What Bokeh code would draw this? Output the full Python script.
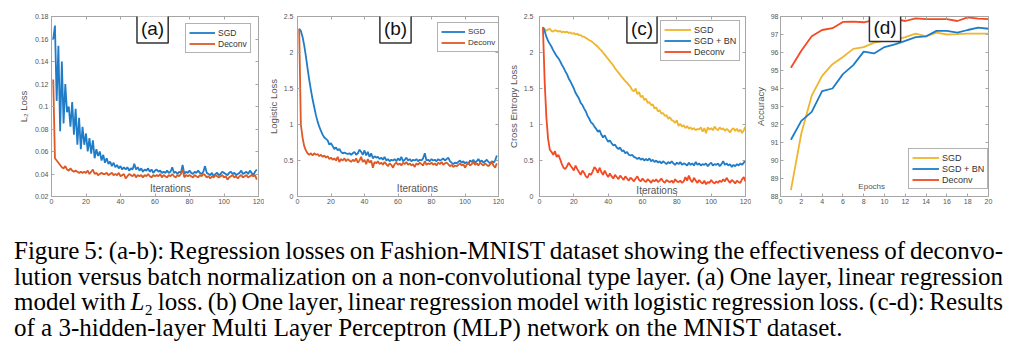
from bokeh.plotting import figure
from bokeh.layouts import row, column
from bokeh.models import Range1d, FixedTicker, Label, Div, LinearAxis
from bokeh.embed import file_html
from bokeh.resources import INLINE

# ---------------- data ----------------
iters_ab = list(range(1, 120))
iters_c = list(range(2, 121))
epochs_d = list(range(1, 21))

a_sgd = [0.160, 0.172, 0.105, 0.154, 0.078, 0.140, 0.085, 0.120, 0.095, 0.100,
         0.082, 0.104, 0.075, 0.098, 0.066, 0.090, 0.062, 0.082, 0.066, 0.076,
         0.060, 0.072, 0.058, 0.070, 0.054, 0.062, 0.056, 0.060, 0.052, 0.057,
         0.050, 0.054, 0.049, 0.051, 0.047, 0.050, 0.046, 0.048, 0.045, 0.047,
         0.044, 0.046, 0.044, 0.046, 0.043, 0.045, 0.044, 0.049, 0.044, 0.046,
         0.043, 0.045, 0.042, 0.044, 0.043, 0.045, 0.042, 0.044, 0.041, 0.043,
         0.044, 0.042, 0.043, 0.041, 0.042, 0.041, 0.043, 0.041, 0.042, 0.046,
         0.041, 0.042, 0.040, 0.042, 0.041, 0.048, 0.040, 0.042, 0.041, 0.043,
         0.041, 0.040, 0.042, 0.041, 0.043, 0.041, 0.040, 0.042, 0.047, 0.041,
         0.040, 0.039, 0.041, 0.038, 0.040, 0.041, 0.039, 0.040, 0.042, 0.041,
         0.040, 0.039, 0.041, 0.042, 0.040, 0.041, 0.039, 0.040, 0.041, 0.043,
         0.040, 0.041, 0.042, 0.040, 0.043, 0.041, 0.039, 0.042, 0.044]
a_deconv = [0.124, 0.054, 0.052, 0.050, 0.048, 0.046, 0.045, 0.047, 0.044, 0.043,
            0.045, 0.043, 0.042, 0.043, 0.042, 0.041, 0.042, 0.041, 0.042, 0.041,
            0.043, 0.040, 0.042, 0.044, 0.040, 0.041, 0.039, 0.040, 0.041, 0.040,
            0.040, 0.041, 0.039, 0.040, 0.041, 0.039, 0.040, 0.039, 0.041, 0.038,
            0.039, 0.040, 0.036, 0.038, 0.040, 0.039, 0.038, 0.040, 0.037, 0.039,
            0.038, 0.039, 0.037, 0.039, 0.038, 0.040, 0.038, 0.037, 0.039, 0.038,
            0.039, 0.038, 0.040, 0.037, 0.039, 0.038, 0.037, 0.039, 0.038, 0.040,
            0.038, 0.037, 0.039, 0.038, 0.040, 0.044, 0.037, 0.039, 0.038, 0.039,
            0.038, 0.037, 0.039, 0.038, 0.037, 0.039, 0.038, 0.040, 0.039, 0.037,
            0.038, 0.036, 0.038, 0.037, 0.039, 0.038, 0.037, 0.038, 0.039, 0.037,
            0.038, 0.035, 0.037, 0.038, 0.039, 0.037, 0.038, 0.036, 0.038, 0.039,
            0.037, 0.038, 0.039, 0.037, 0.038, 0.039, 0.038, 0.039, 0.035]

b_sgd = [2.33, 2.30, 2.22, 2.10, 1.95, 1.78, 1.62, 1.48, 1.35, 1.24,
         1.13, 1.04, 0.97, 0.91, 0.86, 0.82, 0.80, 0.78, 0.72, 0.74,
         0.70, 0.66, 0.68, 0.64, 0.66, 0.62, 0.60, 0.61, 0.60, 0.59,
         0.60, 0.58, 0.60, 0.62, 0.58, 0.60, 0.65, 0.62, 0.58, 0.64,
         0.57, 0.62, 0.55, 0.60, 0.53, 0.56, 0.54, 0.55, 0.52, 0.54,
         0.51, 0.55, 0.50, 0.52, 0.49, 0.51, 0.50, 0.52, 0.49, 0.53,
         0.50, 0.55, 0.49, 0.51, 0.54, 0.50, 0.52, 0.49, 0.51, 0.50,
         0.52, 0.49, 0.51, 0.50, 0.53, 0.60, 0.50, 0.51, 0.49, 0.52,
         0.50, 0.51, 0.49, 0.52, 0.50, 0.51, 0.53, 0.50, 0.52, 0.54,
         0.49, 0.47, 0.45, 0.47, 0.46, 0.48, 0.50, 0.47, 0.49, 0.46,
         0.48, 0.45, 0.50, 0.48, 0.51, 0.47, 0.49, 0.52, 0.48, 0.50,
         0.47, 0.49, 0.51, 0.48, 0.46, 0.49, 0.47, 0.50, 0.57]
b_deconv = [2.33, 1.00, 0.82, 0.70, 0.64, 0.60, 0.58, 0.60, 0.57, 0.60,
            0.58, 0.59, 0.56, 0.58, 0.55, 0.57, 0.54, 0.56, 0.52, 0.54,
            0.51, 0.53, 0.50, 0.55, 0.48, 0.52, 0.50, 0.53, 0.49, 0.52,
            0.50, 0.48, 0.51, 0.49, 0.53, 0.47, 0.50, 0.55, 0.48, 0.51,
            0.45, 0.52, 0.47, 0.50, 0.40, 0.48, 0.46, 0.49, 0.45, 0.47,
            0.44, 0.48, 0.45, 0.42, 0.46, 0.44, 0.40, 0.45, 0.47, 0.44,
            0.46, 0.43, 0.47, 0.45, 0.48, 0.44, 0.46, 0.43, 0.45, 0.41,
            0.46, 0.44, 0.47, 0.45, 0.43, 0.49, 0.44, 0.46, 0.45, 0.47,
            0.44, 0.46, 0.43, 0.47, 0.45, 0.48, 0.44, 0.46, 0.47, 0.45,
            0.42, 0.44, 0.41, 0.43, 0.42, 0.44, 0.46, 0.43, 0.45, 0.40,
            0.44, 0.47, 0.43, 0.45, 0.48, 0.44, 0.46, 0.43, 0.47, 0.45,
            0.43, 0.46, 0.44, 0.42, 0.45, 0.48, 0.43, 0.40, 0.46]

c_sgd = [2.35, 2.33, 2.30, 2.32, 2.33, 2.30, 2.29, 2.31, 2.30, 2.29,
         2.30, 2.28, 2.29, 2.28, 2.29, 2.27, 2.28, 2.26, 2.27, 2.25,
         2.26, 2.24, 2.24, 2.22, 2.22, 2.20, 2.19, 2.17, 2.16, 2.14,
         2.12, 2.10, 2.08, 2.05, 2.03, 2.00, 1.97, 1.94, 1.91, 1.88,
         1.85, 1.82, 1.78, 1.75, 1.72, 1.69, 1.66, 1.63, 1.60, 1.58,
         1.55, 1.52, 1.48, 1.46, 1.50, 1.42, 1.45, 1.38, 1.40, 1.34,
         1.36, 1.30, 1.31, 1.27, 1.28, 1.22, 1.24, 1.18, 1.20, 1.15,
         1.16, 1.12, 1.13, 1.08, 1.10, 1.06, 1.05, 1.02, 1.06, 0.98,
         1.01, 0.97, 0.99, 0.95, 0.98, 0.94, 0.96, 0.93, 0.95, 0.92,
         0.94, 0.93, 0.96, 0.90, 0.95, 0.88, 0.96, 0.93, 0.95, 0.92,
         0.97, 0.94, 0.92, 0.96, 0.93, 0.95, 0.91, 0.94, 0.92, 0.89,
         0.93, 0.95, 0.91, 0.94, 0.90, 0.93, 0.88, 0.92, 0.97]
c_sgd_bn = [2.35, 2.30, 2.22, 2.16, 2.12, 2.08, 2.03, 1.99, 1.95, 1.92,
            1.88, 1.83, 1.79, 1.74, 1.70, 1.64, 1.60, 1.55, 1.50, 1.44,
            1.40, 1.36, 1.30, 1.27, 1.22, 1.18, 1.12, 1.08, 1.03, 1.01,
            0.97, 0.94, 0.90, 0.92, 0.86, 0.82, 0.85, 0.80, 0.76, 0.78,
            0.74, 0.71, 0.72, 0.68, 0.66, 0.68, 0.63, 0.64, 0.60, 0.62,
            0.58, 0.57, 0.58, 0.55, 0.54, 0.52, 0.54, 0.51, 0.53, 0.50,
            0.52, 0.50, 0.53, 0.49, 0.51, 0.48, 0.50, 0.47, 0.49, 0.46,
            0.49, 0.47, 0.45, 0.48, 0.46, 0.49, 0.46, 0.44, 0.47, 0.45,
            0.48, 0.44, 0.46, 0.45, 0.43, 0.47, 0.44, 0.46, 0.43, 0.48,
            0.44, 0.46, 0.43, 0.45, 0.44, 0.46, 0.42, 0.45, 0.47, 0.43,
            0.45, 0.44, 0.46, 0.42, 0.45, 0.49, 0.44, 0.46, 0.43, 0.45,
            0.41, 0.44, 0.42, 0.45, 0.43, 0.46, 0.44, 0.47, 0.50]
c_deconv = [2.35, 1.60, 1.10, 0.80, 0.65, 0.62, 0.58, 0.63, 0.55, 0.58,
            0.52, 0.45, 0.40, 0.38, 0.42, 0.47, 0.43, 0.40, 0.36, 0.43,
            0.38, 0.34, 0.30, 0.36, 0.33, 0.28, 0.26, 0.32, 0.30, 0.35,
            0.41, 0.38, 0.33, 0.40, 0.34, 0.30, 0.36, 0.31, 0.27, 0.32,
            0.28, 0.25, 0.30, 0.27, 0.24, 0.29, 0.26, 0.23, 0.28, 0.25,
            0.22, 0.26, 0.24, 0.21, 0.25, 0.28, 0.23, 0.21, 0.25, 0.22,
            0.20, 0.24, 0.22, 0.19, 0.23, 0.21, 0.24, 0.20, 0.22, 0.25,
            0.21, 0.19, 0.23, 0.21, 0.20, 0.22, 0.19, 0.24, 0.21, 0.20,
            0.22, 0.19, 0.21, 0.27, 0.22, 0.29, 0.23, 0.20, 0.26, 0.22,
            0.19, 0.23, 0.20, 0.18, 0.22, 0.17, 0.20, 0.19, 0.23, 0.20,
            0.18, 0.21, 0.19, 0.22, 0.20, 0.24, 0.21, 0.26, 0.22, 0.19,
            0.23, 0.21, 0.18, 0.22, 0.20, 0.19, 0.24, 0.27, 0.21]

d_sgd = [88.35, 91.5, 93.6, 94.7, 95.35, 95.75, 96.2, 96.3, 96.55, 96.65,
         96.7, 96.85, 97.05, 96.9, 97.1, 97.0, 97.02, 97.05, 97.05, 97.05]
d_sgd_bn = [91.15, 92.2, 92.7, 93.85, 94.0, 94.8, 95.3, 96.05, 95.95, 96.3,
            96.45, 96.65, 96.85, 96.9, 97.2, 97.2, 97.1, 97.25, 97.38, 97.32]
d_deconv = [95.15, 96.1, 96.9, 97.25, 97.35, 97.7, 97.72, 97.68, 97.8, 97.85,
            97.85, 97.75, 97.9, 97.85, 97.85, 97.85, 97.75, 97.95, 97.88, 97.85]

iter_ticks = [0, 20, 40, 60, 80, 100, 120]
iter_tick_labels = ["0", "20", "40", "60", "80", "100", "120"]
epoch_ticks = [0, 2, 4, 6, 8, 10, 12, 14, 16, 18, 20]
epoch_tick_labels = ["0", "2", "4", "6", "8", "10", "12", "14", "16", "18", "20"]
a_y_ticks = [0.02, 0.04, 0.06, 0.08, 0.1, 0.12, 0.14, 0.16, 0.18]
a_y_tick_labels = ["0.02", "0.04", "0.06", "0.08", "0.1", "0.12", "0.14", "0.16", "0.18"]
loss_y_ticks = [0, 0.5, 1, 1.5, 2, 2.5]
loss_y_tick_labels = ["0", "0.5", "1", "1.5", "2", "2.5"]
acc_y_ticks = [88, 89, 90, 91, 92, 93, 94, 95, 96, 97, 98]
acc_y_tick_labels = ["88", "89", "90", "91", "92", "93", "94", "95", "96", "97", "98"]

caption_lines = [
    "Figure 5: (a-b): Regression losses on Fashion-MNIST dataset showing the effectiveness of deconvo-",
    "lution versus batch normalization on a non-convolutional type layer. (a) One layer, linear regression",
    "model with <i>L</i>\u2082 loss. (b) One layer, linear regression model with logistic regression loss. (c-d): Results",
    "of a 3-hidden-layer Multi Layer Perceptron (MLP) network on the MNIST dataset.",
]

# ---------------- styling ----------------
FONT = "Liberation Sans"
AX = "#a6a6a6"
TICK_TXT = "#555555"
BLUE = "#1f7cc8"
ORANGE = "#dd5a24"
YELLOW = "#efb52d"
RED = "#f24a22"


def mirror_axis(p, side, ticks):
    ax = LinearAxis(ticker=FixedTicker(ticks=ticks), axis_line_color=None,
                    major_tick_line_color=AX, major_tick_in=3, major_tick_out=0,
                    minor_tick_line_color=None, major_label_standoff=0,
                    major_label_overrides={t: "" for t in ticks},
                    major_label_text_font_size="1px")
    p.add_layout(ax, side)


def make_panel(width, left, right, xr, yr, xt, xtl, yt, ytl, ylabel, ylabel_standoff, tick_standoff):
    p = figure(width=width, height=215, x_range=Range1d(*xr), y_range=Range1d(*yr),
               output_backend="svg", toolbar_location=None,
               min_border_left=left, min_border_right=right,
               min_border_top=16, min_border_bottom=19)
    p.grid.visible = False
    p.outline_line_color = AX
    p.outline_line_width = 1
    p.background_fill_color = "white"
    p.border_fill_color = "white"
    for ax in (p.xaxis[0], p.yaxis[0]):
        ax.axis_line_color = AX
        ax.major_tick_line_color = AX
        ax.major_tick_in = 3
        ax.major_tick_out = 0
        ax.minor_tick_line_color = None
        ax.major_label_text_font = FONT
        ax.major_label_text_font_size = "7px"
        ax.major_label_text_color = TICK_TXT
    p.xaxis.ticker = FixedTicker(ticks=xt)
    p.xaxis.major_label_overrides = dict(zip(xt, xtl))
    p.xaxis.major_label_standoff = 2
    p.yaxis.ticker = FixedTicker(ticks=yt)
    p.yaxis.major_label_overrides = dict(zip(yt, ytl))
    p.yaxis.major_label_standoff = tick_standoff
    p.yaxis.axis_label = ylabel
    p.yaxis.axis_label_text_font = FONT
    p.yaxis.axis_label_text_font_style = "normal"
    p.yaxis.axis_label_text_font_size = "9.5px"
    p.yaxis.axis_label_text_color = TICK_TXT
    p.yaxis.axis_label_standoff = ylabel_standoff
    mirror_axis(p, "above", xt)
    mirror_axis(p, "right", yt)
    return p


def style_legend(p, loc, size, gw):
    lg = p.legend[0]
    lg.location = loc
    lg.margin = 0
    lg.padding = 3
    lg.spacing = 0
    lg.glyph_width = gw
    lg.glyph_height = 11
    lg.label_height = 11
    lg.label_standoff = 3
    lg.label_text_font = FONT
    lg.label_text_font_size = size
    lg.label_text_color = "#333333"
    lg.border_line_color = "#666666"
    lg.border_line_width = 1
    lg.background_fill_color = "white"
    lg.background_fill_alpha = 1


def panel_tag(p, x, y, txt):
    p.add_layout(Label(x=x, y=y, text=txt, text_align="center", text_baseline="middle",
                       text_font=FONT, text_font_size="19px", text_color="#111111",
                       background_fill_color="white", border_line_color="#333333",
                       border_line_width=1.5, padding=4))


def inner_xlabel(p, x, y, txt, size):
    p.add_layout(Label(x=x, y=y, text=txt, text_align="center", text_baseline="middle",
                       text_font=FONT, text_font_size=size, text_color=TICK_TXT))


LW = 1.8

# (a)
pa = make_panel(264, 51, 6, (0, 120), (0.02, 0.18), iter_ticks, iter_tick_labels,
                a_y_ticks, a_y_tick_labels, "L\u2082 Loss", 3, 3)
pa.line(iters_ab, a_sgd, color=BLUE, line_width=LW, legend_label="SGD")
pa.line(iters_ab, a_deconv, color=ORANGE, line_width=LW, legend_label="Deconv")
style_legend(pa, (134, 143), "8.5px", 26)
panel_tag(pa, 58.6, 0.1693, "(a)")
inner_xlabel(pa, 69, 0.0271, "Iterations", "10px")

# (b)
pb = make_panel(240, 28, 6, (0, 120), (0, 2.5), iter_ticks, iter_tick_labels,
                loss_y_ticks, loss_y_tick_labels, "Logistic Loss", 2, 4)
pb.line(iters_ab, b_sgd, color=BLUE, line_width=LW, legend_label="SGD")
pb.line(iters_ab, b_deconv, color=ORANGE, line_width=LW, legend_label="Deconv")
style_legend(pb, (140, 144), "8px", 24)
panel_tag(pb, 58.5, 2.334, "(b)")
inner_xlabel(pb, 71.6, 0.11, "Iterations", "10px")

# (c)
pc = make_panel(247, 34, 6, (0, 120), (0, 2.5), iter_ticks, iter_tick_labels,
                loss_y_ticks, loss_y_tick_labels, "Cross Entropy Loss", 2, 6)
pc.line(iters_c, c_sgd, color=YELLOW, line_width=LW, legend_label="SGD")
pc.line(iters_c, c_sgd_bn, color=BLUE, line_width=LW, legend_label="SGD + BN")
pc.line(iters_c, c_deconv, color=RED, line_width=LW, legend_label="Deconv")
style_legend(pc, (121, 135), "9px", 27)
panel_tag(pc, 59.7, 2.334, "(c)")
inner_xlabel(pc, 68.4, 0.083, "Iterations", "10px")

# (d)
pd_ = make_panel(243, 26, 6, (0, 20), (88, 98), epoch_ticks, epoch_tick_labels,
                 acc_y_ticks, acc_y_tick_labels, "Accuracy", 2, 2)
pd_.line(epochs_d, d_sgd, color=YELLOW, line_width=LW, legend_label="SGD")
pd_.line(epochs_d, d_sgd_bn, color=BLUE, line_width=LW, legend_label="SGD + BN")
pd_.line(epochs_d, d_deconv, color=RED, line_width=LW, legend_label="Deconv")
style_legend(pd_, (128, 7), "9px", 27)
panel_tag(pd_, 10.05, 97.41, "(d)")
inner_xlabel(pd_, 8.77, 88.53, "Epochs", "8px")

# caption
line_divs = []
for i, ln in enumerate(caption_lines):
    if i < len(caption_lines) - 1:
        st = ("width:989px;height:25.7px;line-height:25.7px;word-spacing:-3px;"
              "text-align:justify;text-align-last:justify;")
    else:
        st = "width:989px;height:25.7px;line-height:25.7px;text-align:left;"
    line_divs.append('<div style="%s">%s</div>' % (st, ln))
cap_html = ('<div style="font-family:\'Liberation Serif\';font-size:25px;color:#000;">'
            + "".join(line_divs) + "</div>")
cap = Div(text=cap_html, width=1000, height=110, margin=(23, 0, 0, 14))

layout = column(row(pa, pb, pc, pd_), cap)

with open("out.html", "w") as f:
    f.write(file_html(layout, INLINE))
